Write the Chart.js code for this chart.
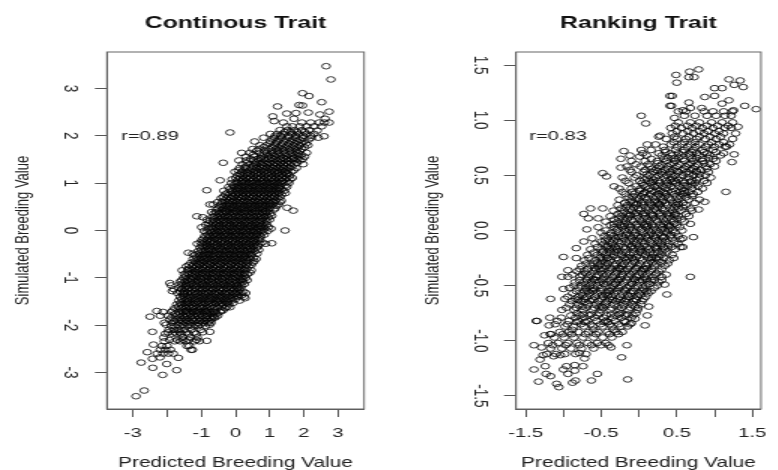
<!DOCTYPE html>
<html>
<head>
<meta charset="utf-8">
<script src="https://cdn.jsdelivr.net/npm/chart.js@4"></script>
<style>
  html, body { margin: 0; background: #fff; overflow: hidden; }
  canvas { position: absolute; top: 0; transform: scaleX(1.5); transform-origin: 0 0; }
  #cont { left: 0; }
  #rank { left: 389px; }
</style>
</head>
<body>
<canvas id="cont" width="260" height="470"></canvas>
<canvas id="rank" width="260" height="470"></canvas>
<script>
const contXTicks = [-3, -2, -1, 0, 1, 2, 3];
const contXLabels = ["-3", "", "-1", "0", "1", "2", "3"];
const contYTicks = [-3, -2, -1, 0, 1, 2, 3];
const contYLabels = ["-3", "-2", "-1", "0", "1", "2", "3"];
const rankXTicks = [-1.5, -1, -0.5, 0, 0.5, 1, 1.5];
const rankXLabels = ["-1.5", "", "-0.5", "", "0.5", "", "1.5"];
const rankYTicks = [-1.5, -1, -0.5, 0, 0.5, 1, 1.5];
const rankYLabels = ["-1.5", "-1.0", "-0.5", "0.0", "0.5", "1.0", "1.5"];

// single rings
const contStray = [[2.65,3.47],[2.79,3.19],[1.96,2.9],[2.15,2.84],[2.52,2.71],[1.23,2.62],[1.86,2.65],[1.96,2.64],[2.74,2.51],[2.13,2.49],[1.5,2.47],[1.77,2.48],[1.09,2.41],[2.47,2.45],[1.71,2.36],[1.13,2.31],[2.74,2.28],[2.62,2.36],[-0.16,2.07],[-0.36,1.43],[-0.45,1.06],[-0.84,0.85],[-0.65,0.55],[-0.75,0.55],[-1.13,0.3],[-0.99,0.07],[1.45,0],[1.69,0.42],[1.51,0.48],[2.59,1.99],[2.39,2.11],[-2.91,-3.5],[-2.67,-3.38],[-2.13,-3.05],[-2.42,-2.9],[-1.72,-2.95],[-2.76,-2.79],[-2.01,-2.82],[-2.58,-2.57],[-2.4,-2.41],[-2.43,-2.71],[-2.21,-2.68],[-1.67,-2.69],[-1.26,-2.52],[-0.84,-2.33],[-2.43,-2.14],[-0.75,-2.14],[-2.5,-1.82],[-2.3,-1.7],[-1.38,-0.47],[1.06,-0.27],[0.28,-1.43],[-0.16,-1.62],[-0.37,-1.69],[-0.63,-1.83],[-1.92,-1.11],[-1.85,-1.28]];

// dense band, one row per y level: [y, [x, x, ...]]
const contBand = [
[-2.6,[-2.29,-2.12,-1.96,-1.82]],
[-2.52,[-2.2,-2.05,-1.9,-1.3]],
[-2.44,[-2.15,-2,-1.35,-1.42]],
[-2.34,[-2.08,-1.78,-1.62,-1.45,-1.2,-1.06]],
[-2.26,[-2.1,-1.55,-1.32,-1.12]],
[-2.18,[-2.05,-1.85,-1.72,-1.58,-1.38,-1.15]],
[-2.1,[-1.95,-1.8,-1.66,-1.5,-1.3,-1.02]],
[-2.02,[-1.88,-1.77,-1.6,-1.41,-1.25,-1.09,-0.88]],
[-1.95,[-2.08,-1.85,-1.66,-1.48,-1.33,-1.1,-0.95,-0.8,-0.72]],
[-1.88,[-1.93,-1.74,-1.6,-1.45,-1.28,-1.15,-1,-0.85,-0.7]],
[-1.8,[-2.2,-1.98,-1.7,-1.55,-1.4,-1.25,-1.1,-0.96,-0.82,-0.66,-0.52]],
[-1.72,[-2.12,-1.88,-1.68,-1.52,-1.38,-1.22,-1.06,-0.9,-0.75,-0.6,-0.45]],
[-1.64,[-1.78,-1.6,-1.46,-1.3,-1.17,-1,-0.85,-0.68,-0.52,-0.3]],
[-1.56,[-1.72,-1.58,-1.42,-1.28,-1.12,-0.96,-0.8,-0.64,-0.48,-0.34,-0.2]],
[-1.48,[-1.66,-1.5,-1.36,-1.2,-1.05,-0.9,-0.74,-0.58,-0.44,-0.28,-0.12,0.12]],
[-1.4,[-1.62,-1.47,-1.3,-1.14,-0.98,-0.84,-0.68,-0.52,-0.38,-0.22,-0.06,0.08,0.25]],
[-1.32,[-1.7,-1.54,-1.4,-1.26,-1.1,-0.94,-0.78,-0.62,-0.47,-0.32,-0.16,-0.02,0.16,0.3]],
[-1.24,[-1.8,-1.58,-1.43,-1.27,-1.13,-0.97,-0.82,-0.66,-0.5,-0.35,-0.2,-0.04,0.1]],
[-1.16,[-1.88,-1.55,-1.39,-1.23,-1.07,-0.92,-0.76,-0.6,-0.45,-0.3,-0.14,0.02,0.18]],
[-1.08,[-1.62,-1.48,-1.32,-1.16,-1,-0.85,-0.7,-0.54,-0.38,-0.23,-0.08,0.07,0.22]],
[-1,[-1.52,-1.38,-1.22,-1.07,-0.92,-0.77,-0.62,-0.46,-0.31,-0.16,0,0.14,0.3]],
[-0.92,[-1.5,-1.34,-1.18,-1.02,-0.87,-0.72,-0.56,-0.41,-0.26,-0.1,0.05,0.2,0.35]],
[-0.84,[-1.56,-1.4,-1.25,-1.1,-0.94,-0.79,-0.63,-0.48,-0.32,-0.17,-0.02,0.13,0.28,0.46]],
[-0.76,[-1.44,-1.28,-1.13,-0.98,-0.82,-0.67,-0.51,-0.36,-0.21,-0.06,0.09,0.24,0.38]],
[-0.68,[-1.3,-1.16,-1,-0.85,-0.7,-0.55,-0.39,-0.24,-0.09,0.06,0.21,0.36,0.5]],
[-0.6,[-1.24,-1.08,-0.93,-0.78,-0.62,-0.47,-0.32,-0.17,-0.02,0.13,0.28,0.43,0.6]],
[-0.52,[-1.2,-1.03,-0.88,-0.73,-0.58,-0.42,-0.27,-0.12,0.03,0.18,0.33,0.48]],
[-0.44,[-1.1,-0.95,-0.8,-0.65,-0.5,-0.34,-0.19,-0.04,0.11,0.26,0.41,0.56]],
[-0.36,[-1.04,-0.89,-0.74,-0.58,-0.43,-0.28,-0.13,0.02,0.17,0.32,0.47,0.62]],
[-0.28,[-1.12,-0.97,-0.82,-0.66,-0.51,-0.36,-0.2,-0.05,0.1,0.25,0.4,0.55,0.72,0.88]],
[-0.2,[-0.98,-0.84,-0.68,-0.53,-0.38,-0.23,-0.08,0.07,0.22,0.37,0.52,0.67]],
[-0.12,[-0.9,-0.76,-0.61,-0.46,-0.31,-0.16,-0.01,0.14,0.29,0.44,0.59,0.74]],
[-0.04,[-0.85,-0.7,-0.55,-0.4,-0.25,-0.1,0.05,0.2,0.35,0.5,0.65,0.8]],
[0.04,[-0.8,-0.65,-0.5,-0.35,-0.2,-0.05,0.1,0.25,0.4,0.55,0.7,0.85,1.04]],
[0.12,[-0.87,-0.72,-0.57,-0.42,-0.27,-0.12,0.03,0.18,0.33,0.48,0.63,0.78,0.92]],
[0.2,[-0.75,-0.6,-0.46,-0.31,-0.16,-0.01,0.14,0.29,0.44,0.59,0.74,0.9]],
[0.28,[-0.96,-0.68,-0.53,-0.38,-0.23,-0.08,0.07,0.22,0.37,0.52,0.67,0.82,0.97]],
[0.36,[-0.63,-0.48,-0.33,-0.18,-0.03,0.12,0.27,0.42,0.57,0.72,0.87,1.02]],
[0.44,[-0.55,-0.4,-0.25,-0.1,0.05,0.2,0.35,0.5,0.65,0.8,0.95,1.12]],
[0.52,[-0.47,-0.32,-0.17,-0.02,0.13,0.28,0.43,0.58,0.73,0.88,1.03,1.2]],
[0.6,[-0.52,-0.38,-0.23,-0.08,0.07,0.22,0.37,0.52,0.67,0.82,0.97,1.12,1.3]],
[0.68,[-0.42,-0.27,-0.12,0.03,0.18,0.33,0.48,0.63,0.78,0.93,1.08,1.24]],
[0.76,[-0.3,-0.16,-0.01,0.14,0.29,0.44,0.59,0.74,0.89,1.04,1.19,1.35]],
[0.84,[-0.34,-0.1,0.05,0.2,0.35,0.5,0.65,0.8,0.95,1.1,1.25,1.42]],
[0.92,[-0.2,-0.04,0.11,0.26,0.41,0.56,0.71,0.86,1.01,1.16,1.31,1.5]],
[1,[-0.12,0.03,0.18,0.33,0.48,0.63,0.78,0.93,1.08,1.23,1.38,1.56]],
[1.08,[-0.1,0.08,0.24,0.39,0.54,0.69,0.84,0.99,1.14,1.29,1.44,1.6]],
[1.16,[0.05,0.2,0.36,0.51,0.66,0.81,0.96,1.11,1.26,1.41,1.58]],
[1.24,[-0.02,0.18,0.34,0.52,0.68,0.84,1,1.15,1.3,1.45,1.64]],
[1.32,[0.12,0.28,0.46,0.62,0.78,0.94,1.1,1.25,1.4,1.56,1.78]],
[1.4,[0.2,0.42,0.58,0.75,0.92,1.08,1.24,1.4,1.55,1.72,1.98]],
[1.48,[0.1,0.32,0.52,0.7,0.88,1.05,1.22,1.38,1.54,1.72,1.9]],
[1.56,[0.3,0.55,0.76,0.95,1.14,1.3,1.48,1.66,1.85,2.02]],
[1.64,[0.18,0.42,0.72,0.92,1.1,1.28,1.46,1.64,1.82,2.08]],
[1.72,[0.5,0.68,0.98,1.18,1.36,1.56,1.74,1.94]],
[1.8,[0.72,0.9,1.14,1.34,1.52,1.7,1.88,2.12]],
[1.88,[0.56,1.02,1.22,1.42,1.62,1.8,2]],
[1.96,[0.82,1.14,1.34,1.56,1.76,1.96,2.22,2.42]],
[2.04,[1.02,1.22,1.4,1.66,1.86,2.08,2.3]],
[2.12,[1.3,1.52,1.72,1.94,2.16]],
[2.2,[1.5,1.66,1.88,2.08,2.3,2.52]],
[2.28,[1.4,1.94,2.2,2.45,2.6]]
];

// second pass over the band, rows between the ones above
const contFill = [
[-2.31,[-1.93,-1.7,-1.52,-1.37,-1.14]],
[-2.15,[-1.97,-1.77,-1.63,-1.44,-1.21,-0.96]],
[-1.99,[-2.03,-1.7,-1.53,-1.36,-1.17,-1.03,-0.76]],
[-1.91,[-1.79,-1.57,-1.4,-1.22,-1.06,-0.9,-0.77]],
[-1.84,[-1.87,-1.64,-1.49,-1.32,-1.19,-1.03,-0.88,-0.73,-0.6]],
[-1.76,[-1.76,-1.61,-1.44,-1.31,-1.14,-0.99,-0.83,-0.69,-0.55]],
[-1.69,[-1.83,-1.56,-1.42,-1.26,-1.09,-0.93,-0.79,-0.63,-0.42]],
[-1.61,[-1.67,-1.52,-1.36,-1.23,-1.05,-0.91,-0.74,-0.59,-0.41,-0.25]],
[-1.53,[-1.61,-1.45,-1.33,-1.16,-1.01,-0.86,-0.69,-0.55,-0.39,-0.24,-0.07]],
[-1.45,[-1.57,-1.41,-1.25,-1.11,-0.95,-0.79,-0.64,-0.49,-0.33,-0.17,-0.01]],
[-1.37,[-1.53,-1.38,-1.22,-1.03,-0.89,-0.73,-0.57,-0.43,-0.27,-0.11,0.04,0.18]],
[-1.29,[-1.62,-1.49,-1.33,-1.19,-1.02,-0.86,-0.71,-0.55,-0.41,-0.25,-0.09,0.06,0.23]],
[-1.21,[-1.65,-1.51,-1.35,-1.18,-1.03,-0.88,-0.72,-0.57,-0.42,-0.26,-0.11,0.05,0.15]],
[-1.13,[-1.59,-1.44,-1.29,-1.12,-0.96,-0.81,-0.65,-0.5,-0.34,-0.19,-0.03,0.11,0.26]],
[-1.05,[-1.57,-1.41,-1.26,-1.1,-0.94,-0.79,-0.64,-0.48,-0.33,-0.17,-0.01,0.17,0.34]],
[-0.97,[-1.46,-1.28,-1.13,-0.99,-0.83,-0.68,-0.52,-0.37,-0.21,-0.05,0.09,0.25]],
[-0.89,[-1.42,-1.27,-1.12,-0.96,-0.81,-0.66,-0.5,-0.35,-0.2,-0.04,0.11,0.27,0.42]],
[-0.81,[-1.36,-1.2,-1.05,-0.89,-0.74,-0.58,-0.43,-0.28,-0.12,0.03,0.19,0.33]],
[-0.73,[-1.37,-1.22,-1.06,-0.91,-0.75,-0.6,-0.45,-0.29,-0.14,0.01,0.16,0.31,0.46]],
[-0.65,[-1.19,-1.04,-0.9,-0.74,-0.59,-0.44,-0.28,-0.13,0.02,0.17,0.32,0.54]],
[-0.57,[-1.15,-0.99,-0.84,-0.68,-0.52,-0.37,-0.22,-0.07,0.08,0.23,0.38,0.53]],
[-0.49,[-1.25,-1.07,-0.92,-0.77,-0.62,-0.46,-0.31,-0.16,-0.01,0.14,0.29,0.44,0.63]],
[-0.41,[-1.01,-0.86,-0.71,-0.55,-0.4,-0.25,-0.09,0.06,0.21,0.36,0.51,0.68]],
[-0.33,[-0.98,-0.83,-0.68,-0.53,-0.37,-0.22,-0.07,0.08,0.23,0.38,0.53,0.66]],
[-0.25,[-1.02,-0.9,-0.75,-0.6,-0.45,-0.3,-0.15,0,0.15,0.3,0.45,0.6,0.78]],
[-0.17,[-0.93,-0.79,-0.63,-0.49,-0.33,-0.18,-0.03,0.12,0.27,0.42,0.57,0.71]],
[-0.09,[-0.81,-0.66,-0.51,-0.36,-0.21,-0.06,0.09,0.24,0.39,0.54,0.69,0.84]],
[-0.01,[-0.92,-0.75,-0.6,-0.45,-0.3,-0.15,0,0.15,0.3,0.45,0.6,0.75,0.94]],
[0.07,[-0.7,-0.55,-0.4,-0.25,-0.09,0.06,0.21,0.36,0.51,0.66,0.81,0.96]],
[0.15,[-0.79,-0.64,-0.5,-0.34,-0.19,-0.04,0.11,0.26,0.41,0.56,0.71,0.86]],
[0.23,[-0.83,-0.65,-0.49,-0.35,-0.2,-0.05,0.1,0.25,0.4,0.55,0.7,0.86,1]],
[0.31,[-0.6,-0.45,-0.3,-0.15,0,0.15,0.3,0.45,0.6,0.75,0.9,1.06]],
[0.39,[-0.7,-0.56,-0.41,-0.26,-0.11,0.04,0.19,0.34,0.49,0.64,0.79,0.94]],
[0.47,[-0.5,-0.35,-0.2,-0.05,0.1,0.25,0.4,0.55,0.7,0.85,1,1.16]],
[0.55,[-0.41,-0.26,-0.11,0.04,0.19,0.34,0.49,0.64,0.79,0.94,1.09,1.26]],
[0.63,[-0.33,-0.18,-0.03,0.12,0.27,0.42,0.57,0.72,0.87,1.02,1.17,1.34]],
[0.71,[-0.36,-0.2,-0.06,0.09,0.24,0.39,0.54,0.69,0.84,0.99,1.14,1.3]],
[0.79,[-0.24,-0.07,0.08,0.23,0.38,0.53,0.68,0.83,0.98,1.13,1.28,1.46]],
[0.87,[-0.17,0,0.15,0.3,0.45,0.6,0.75,0.9,1.05,1.2,1.35]],
[0.95,[-0.07,0.08,0.23,0.38,0.53,0.68,0.83,0.98,1.13,1.28,1.46]],
[1.03,[0.02,0.17,0.3,0.45,0.6,0.75,0.9,1.05,1.2,1.35,1.52]],
[1.11,[0.01,0.14,0.29,0.44,0.6,0.75,0.9,1.05,1.2,1.35,1.5,1.66]],
[1.19,[0.12,0.28,0.44,0.6,0.75,0.9,1.05,1.2,1.36,1.52]],
[1.27,[0.08,0.24,0.41,0.58,0.74,0.9,1.06,1.21,1.37,1.52,1.7]],
[1.35,[0.3,0.52,0.69,0.85,1.02,1.17,1.33,1.48,1.64]],
[1.43,[0.34,0.6,0.8,0.98,1.14,1.32,1.47,1.63,1.8]],
[1.51,[0.44,0.64,0.82,0.98,1.16,1.32,1.48,1.64,1.82,1.96]],
[1.6,[0.52,0.84,1.02,1.2,1.38,1.56,1.74,1.92]],
[1.68,[0.62,0.86,1.06,1.24,1.42,1.6,1.78,1.88]],
[1.76,[0.82,1.08,1.26,1.46,1.64,1.82,2.02]],
[1.84,[1,1.18,1.38,1.56,1.74,1.92,2.06]],
[1.92,[1.08,1.28,1.48,1.68,1.88,2.14]],
[2,[1.16,1.32,1.54,1.76,1.98,2.2]],
[2.08,[1.44,1.62,1.8,2.02]]
];

// third pass, only the solid black middle
const contCore = [
[-1.7,[-1.46,-1.17,-0.87]],
[-1.5,[-1.4,-1.1,-0.8,-0.52,-0.24]],
[-1.34,[-1.5,-1.17,-0.9,-0.6,-0.3,0]],
[-1.18,[-1.45,-1.15,-0.84,-0.53,-0.22,0.06]],
[-1.02,[-1.3,-1,-0.7,-0.4,-0.1,0.2]],
[-0.87,[-1.16,-0.85,-0.54,-0.23,0.08]],
[-0.71,[-1.09,-0.78,-0.47,-0.16,0.15]],
[-0.55,[-0.95,-0.65,-0.35,-0.04,0.26]],
[-0.39,[-0.77,-0.46,-0.16,0.14,0.44]],
[-0.23,[-0.72,-0.41,-0.1,0.2,0.5]],
[-0.07,[-0.58,-0.28,0.02,0.32,0.62]],
[0.09,[-0.47,-0.16,0.14,0.44,0.74]],
[0.25,[-0.42,-0.12,0.18,0.48,0.78]],
[0.41,[-0.3,0,0.3,0.6,0.88]],
[0.57,[-0.19,0.11,0.41,0.71,1.01]],
[0.73,[-0.08,0.22,0.52,0.82,1.12]],
[0.89,[0.08,0.38,0.68,0.98,1.26]],
[1.05,[0.2,0.5,0.8,1.1,1.38]],
[1.21,[0.34,0.64,0.94,1.24,1.5]],
[1.37,[0.52,0.82,1.12,1.42]],
[1.53,[0.74,1.06,1.4,1.7]]
];

const rankStray = [[0.79,1.46],[0.67,1.44],[0.49,1.41],[0.66,1.39],[0.73,1.39],[0.5,1.34],[1.19,1.37],[1.34,1.36],[1.26,1.32],[1.38,1.3],[1,1.29],[1.1,1.29],[0.41,1.22],[0.44,1.22],[0.87,1.21],[1,1.22],[1.19,1.18],[0.66,1.16],[0.41,1.13],[0.43,1.13],[1.1,1.15],[1.4,1.13],[1.55,1.1],[0.03,1.04],[0.09,0.97],[0.58,1.09],[0.68,1.11],[0.83,1.11],[1.25,1.09],[0.47,1.02],[1.31,0.94],[0.28,0.86],[0.11,0.78],[-0.2,0.72],[0.03,0.73],[-0.48,0.52],[-0.43,0.49],[-0.24,0.57],[-0.24,0.65],[0.01,0.67],[1.26,0.69],[1.16,0.76],[1.23,0.62],[1.15,0.35],[0.79,0.19],[0.68,0.06],[0.87,0.26],[-0.73,0.15],[-0.64,0.2],[-0.67,0.11],[-0.54,0.11],[-0.69,0.01],[-0.33,0.4],[-0.48,0.2],[-1.06,-1.42],[-1.09,-1.39],[-1.33,-1.37],[-0.88,-1.38],[-0.84,-1.36],[-0.63,-1.36],[-0.15,-1.35],[-0.55,-1.3],[-1.17,-1.32],[-1.23,-1.3],[-1.39,-1.26],[-1,-1.26],[-0.94,-1.3],[-0.85,-1.27],[-1.24,-1.23],[-0.74,-1.23],[-0.96,-1.23],[-0.85,-1.22],[-1.31,-1.17],[-0.23,-1.15],[-1.27,-1.13],[-1.39,-1.04],[-1.29,-1.06],[-0.16,-1.04],[-0.37,-1.06],[-1.36,-0.82],[-1.35,-0.82],[-1.19,-0.86],[-1.17,-0.62],[-1.18,-0.79],[0.08,-0.86],[0.11,-0.77],[0.13,-0.69],[0.37,-0.58],[0.68,-0.42],[0.34,-0.49],[-1,-0.24],[-0.83,-0.16],[-0.83,-0.25],[-1.02,-0.42],[-0.94,-0.36],[-1,-0.53],[0.72,-0.06],[0.55,-0.15],[0.55,-0.08],[-0.73,-0.1],[-1.25,-0.95],[-1.17,-0.94],[-1.04,-1.13],[-1.13,-1.14],[-0.79,-1.11],[-0.72,-1.16],[-0.4,-1.04],[-0.05,-0.8],[-0.1,-0.84],[-0.22,-0.92]];

const rankBand = [
[-1.12,[-1.22,-1.1,-0.98,-0.84,-0.7]],
[-1.07,[-1.17,-1.02,-0.9,-0.76,-0.6]],
[-1.02,[-1.2,-1.07,-0.94,-0.82,-0.68,-0.55,-0.44]],
[-0.97,[-1.12,-0.99,-0.86,-0.74,-0.6,-0.48,-0.36]],
[-0.92,[-1.05,-0.93,-0.8,-0.67,-0.54,-0.42,-0.3]],
[-0.87,[-0.98,-0.86,-0.73,-0.61,-0.48,-0.36,-0.24,-0.15]],
[-0.82,[-1.08,-0.93,-0.8,-0.68,-0.56,-0.44,-0.32,-0.2]],
[-0.77,[-0.9,-0.78,-0.66,-0.55,-0.43,-0.3,-0.18,-0.08]],
[-0.72,[-1.02,-0.86,-0.74,-0.62,-0.5,-0.38,-0.26,-0.14,-0.02]],
[-0.67,[-0.92,-0.8,-0.68,-0.57,-0.45,-0.33,-0.21,-0.09,0.03]],
[-0.62,[-0.98,-0.84,-0.72,-0.62,-0.5,-0.39,-0.28,-0.17,-0.05,0.06]],
[-0.57,[-0.88,-0.76,-0.66,-0.55,-0.44,-0.33,-0.22,-0.11,0,0.12]],
[-0.52,[-0.92,-0.8,-0.7,-0.6,-0.5,-0.38,-0.27,-0.16,-0.06,0.05,0.2]],
[-0.47,[-0.85,-0.73,-0.63,-0.53,-0.42,-0.31,-0.2,-0.1,0.01,0.12,0.26]],
[-0.42,[-0.94,-0.78,-0.67,-0.57,-0.46,-0.35,-0.25,-0.14,-0.03,0.07,0.18,0.3]],
[-0.37,[-0.82,-0.72,-0.6,-0.5,-0.4,-0.29,-0.18,-0.08,0.03,0.14,0.26]],
[-0.32,[-0.76,-0.64,-0.54,-0.44,-0.33,-0.23,-0.12,-0.02,0.09,0.2,0.34]],
[-0.27,[-0.72,-0.58,-0.48,-0.38,-0.27,-0.17,-0.06,0.04,0.15,0.26,0.4]],
[-0.22,[-0.68,-0.55,-0.44,-0.33,-0.23,-0.12,-0.02,0.09,0.19,0.3,0.44]],
[-0.17,[-0.64,-0.5,-0.39,-0.29,-0.18,-0.08,0.03,0.13,0.24,0.35,0.48]],
[-0.12,[-0.58,-0.46,-0.35,-0.24,-0.14,-0.03,0.07,0.18,0.29,0.4,0.52]],
[-0.07,[-0.62,-0.42,-0.31,-0.2,-0.1,0.01,0.11,0.22,0.32,0.44,0.58]],
[-0.02,[-0.5,-0.37,-0.26,-0.15,-0.05,0.06,0.16,0.27,0.37,0.48]],
[0.03,[-0.54,-0.33,-0.22,-0.11,-0.01,0.1,0.2,0.31,0.42,0.54]],
[0.08,[-0.44,-0.28,-0.17,-0.07,0.04,0.14,0.25,0.35,0.46,0.6]],
[0.13,[-0.38,-0.24,-0.13,-0.02,0.08,0.19,0.29,0.4,0.52,0.66]],
[0.18,[-0.34,-0.2,-0.09,0.02,0.12,0.23,0.34,0.44,0.56,0.7]],
[0.23,[-0.28,-0.15,-0.04,0.06,0.17,0.27,0.38,0.49,0.62]],
[0.28,[-0.26,-0.1,0,0.11,0.21,0.32,0.42,0.53,0.66,0.8]],
[0.33,[-0.18,-0.06,0.05,0.15,0.26,0.36,0.47,0.58,0.72]],
[0.38,[-0.26,-0.1,0.02,0.13,0.24,0.35,0.46,0.57,0.7,0.84]],
[0.43,[-0.14,0.04,0.16,0.27,0.38,0.49,0.6,0.74,0.9]],
[0.48,[-0.22,-0.06,0.1,0.22,0.33,0.44,0.55,0.66,0.8,0.95]],
[0.53,[-0.1,0.06,0.19,0.3,0.41,0.52,0.63,0.76,0.92]],
[0.58,[-0.16,0.02,0.14,0.27,0.38,0.5,0.62,0.74,0.88,1]],
[0.63,[-0.1,0.08,0.24,0.36,0.48,0.6,0.72,0.84,1.02]],
[0.68,[-0.12,0.1,0.3,0.44,0.56,0.68,0.8,0.94,1.08]],
[0.73,[0.16,0.34,0.48,0.6,0.72,0.84,0.98]],
[0.78,[0.22,0.42,0.56,0.68,0.8,0.92,1.06,1.2]],
[0.83,[0.36,0.5,0.62,0.76,0.88,1.02,1.24]],
[0.88,[0.44,0.58,0.72,0.86,1,1.12,1.28]],
[0.93,[0.42,0.56,0.7,0.84,0.98,1.14,1.22]],
[0.98,[0.52,0.68,0.8,0.96,1.1,1.24]],
[1.04,[0.6,0.74,0.9,1.02,1.14,1.22]],
[1.08,[0.52,0.62,0.86,0.98,1.12,1.24]]
];

const rankFill = [
[-1.04,[-1.14,-0.97,-0.79,-0.63,-0.5]],
[-0.94,[-1.17,-1.01,-0.89,-0.71,-0.57,-0.39,-0.27]],
[-0.85,[-1.11,-0.95,-0.77,-0.64,-0.51,-0.39,-0.27,-0.12]],
[-0.79,[-1.03,-0.84,-0.72,-0.59,-0.47,-0.35,-0.23,-0.1]],
[-0.7,[-0.96,-0.83,-0.7,-0.59,-0.47,-0.36,-0.23,-0.11,-0.01]],
[-0.64,[-0.89,-0.77,-0.65,-0.54,-0.42,-0.31,-0.19,-0.07,0.04]],
[-0.6,[-0.94,-0.8,-0.69,-0.58,-0.47,-0.36,-0.25,-0.13,-0.02,0.09]],
[-0.55,[-0.83,-0.72,-0.61,-0.51,-0.4,-0.29,-0.18,-0.07,0.04,0.16]],
[-0.5,[-0.86,-0.76,-0.65,-0.55,-0.44,-0.34,-0.23,-0.12,-0.02,0.09,0.24]],
[-0.45,[-0.79,-0.69,-0.59,-0.48,-0.38,-0.27,-0.16,-0.05,0.05,0.16,0.3]],
[-0.4,[-0.88,-0.75,-0.64,-0.54,-0.43,-0.32,-0.22,-0.11,0,0.1,0.22,0.36]],
[-0.35,[-0.78,-0.68,-0.57,-0.46,-0.36,-0.25,-0.15,-0.05,0.06,0.17,0.3]],
[-0.3,[-0.7,-0.6,-0.5,-0.41,-0.3,-0.2,-0.09,0.01,0.12,0.23,0.38]],
[-0.25,[-0.66,-0.52,-0.42,-0.3,-0.2,-0.09,0.01,0.12,0.22,0.33,0.46]],
[-0.2,[-0.6,-0.49,-0.38,-0.28,-0.17,-0.07,0.04,0.14,0.25,0.37]],
[-0.15,[-0.55,-0.43,-0.32,-0.21,-0.11,0,0.1,0.21,0.32,0.43,0.58]],
[-0.1,[-0.5,-0.39,-0.28,-0.17,-0.07,0.04,0.14,0.25,0.35,0.47]],
[-0.05,[-0.46,-0.34,-0.23,-0.12,-0.02,0.09,0.19,0.3,0.41,0.52]],
[0,[-0.44,-0.3,-0.19,-0.08,0.02,0.13,0.23,0.34,0.44,0.57]],
[0.05,[-0.38,-0.25,-0.14,-0.04,0.07,0.17,0.28,0.38,0.5]],
[0.1,[-0.33,-0.21,-0.1,0.01,0.11,0.22,0.32,0.43,0.56]],
[0.15,[-0.28,-0.16,-0.06,0.05,0.16,0.26,0.37,0.48,0.62]],
[0.2,[-0.24,-0.12,-0.01,0.09,0.2,0.3,0.41,0.52,0.68]],
[0.25,[-0.19,-0.07,0.03,0.14,0.24,0.35,0.45,0.58,0.74]],
[0.3,[-0.14,-0.03,0.08,0.18,0.29,0.39,0.5,0.62]],
[0.35,[-0.22,-0.09,0.08,0.21,0.32,0.43,0.54,0.66,0.78]],
[0.4,[-0.04,0.09,0.2,0.31,0.42,0.53,0.64,0.78]],
[0.45,[-0.18,0.01,0.13,0.25,0.36,0.47,0.58,0.7,0.86]],
[0.5,[-0.03,0.14,0.26,0.37,0.48,0.59,0.72,0.88]],
[0.55,[-0.12,0.08,0.22,0.34,0.45,0.57,0.69,0.82]],
[0.6,[-0.04,0.12,0.3,0.42,0.54,0.66,0.78,0.94]],
[0.65,[0.16,0.33,0.46,0.58,0.7,0.84,0.98]],
[0.7,[0.05,0.26,0.42,0.52,0.66,0.76,0.9,1.12]],
[0.76,[0.32,0.5,0.64,0.75,0.88,1,1.14]],
[0.85,[0.26,0.47,0.66,0.8,0.94,1.08]],
[0.95,[0.48,0.64,0.76,0.9,1.04,1.18]]
];

const rankCore = [
[-0.9,[-0.88,-0.6,-0.34]],
[-0.75,[-0.82,-0.52,-0.24,-0.04]],
[-0.65,[-0.72,-0.44,-0.16]],
[-0.55,[-0.68,-0.38,-0.1,0.1]],
[-0.45,[-0.56,-0.28,0,0.2]],
[-0.35,[-0.52,-0.22,0.08]],
[-0.25,[-0.42,-0.14,0.16]],
[-0.16,[-0.36,-0.06,0.22]],
[-0.06,[-0.27,0.03,0.33]],
[0.04,[-0.19,0.12,0.4]],
[0.14,[-0.11,0.18,0.47]],
[0.24,[-0.02,0.27,0.52]],
[0.34,[0.07,0.34,0.6]],
[0.44,[0.19,0.44,0.68]],
[0.54,[0.25,0.5,0.76]]
];

// last pass in the dark middle, uneven on purpose like the picture
const rankDark = [
[-0.83,[-0.83,-0.71,-0.46,-0.41,-0.18]],
[-0.76,[-0.74,-0.63,-0.37,-0.26,-0.15]],
[-0.69,[-0.75,-0.52,-0.49,-0.28,-0.05]],
[-0.63,[-0.81,-0.6,-0.35,-0.24,-0.03]],
[-0.585,[-0.74,-0.49,-0.41,-0.15,0.02]],
[-0.535,[-0.64,-0.58,-0.34,-0.2,0.07]],
[-0.485,[-0.7,-0.47,-0.31,-0.09,0.14]],
[-0.44,[-0.61,-0.42,-0.24,-0.07,0.1]],
[-0.39,[-0.7,-0.48,-0.3,-0.13,0.04,0.23]],
[-0.34,[-0.59,-0.39,-0.27,-0.03,0.11]],
[-0.29,[-0.55,-0.44,-0.24,-0.06,0.18,0.3]],
[-0.24,[-0.5,-0.36,-0.16,-0.03,0.17,0.26]],
[-0.19,[-0.47,-0.33,-0.22,0.01,0.09,0.31]],
[-0.14,[-0.41,-0.27,-0.09,0.06,0.24,0.38]],
[-0.09,[-0.45,-0.33,-0.13,-0.01,0.17,0.3]],
[-0.04,[-0.38,-0.17,-0.06,0.13,0.24,0.43]],
[0.01,[-0.28,-0.13,0.04,0.18,0.3,0.39]],
[0.06,[-0.33,-0.2,-0.02,0.1,0.32,0.47]],
[0.11,[-0.27,-0.15,0.06,0.18,0.37,0.5]],
[0.16,[-0.22,-0.03,0.08,0.28,0.41]],
[0.21,[-0.17,-0.07,0.13,0.24,0.46,0.58]],
[0.26,[-0.12,0.06,0.2,0.31,0.5]],
[0.31,[-0.08,0.03,0.22,0.35,0.55,0.7]],
[0.36,[0.01,0.17,0.28,0.48,0.6]],
[0.41,[0.06,0.24,0.37,0.59,0.71]],
[0.46,[0.07,0.19,0.41,0.52,0.76]],
[0.51,[0.1,0.3,0.43,0.66,0.8]],
[0.56,[0.17,0.38,0.6,0.72,0.9]],
[0.61,[0.25,0.46,0.69,0.86]],
[0.66,[0.38,0.52,0.76,0.92]],
[0.71,[0.35,0.58,0.7,0.86,1.02]],
[0.8,[0.46,0.6,0.74,0.96,1.12]],
[0.9,[0.5,0.65,0.8,0.92,1.06]]
];

const contNote = { text: "r=0.89", x: -2.5, y: 2 };
const rankNote = { text: "r=0.83", x: -1.07, y: 0.85 };

function toPoints(stray, ...bands) {
  const pts = stray.map(p => ({ x: p[0], y: p[1] }));
  bands.forEach(band => band.forEach(row => row[1].forEach(x => pts.push({ x: x, y: row[0] }))));
  return pts;
}

// box round the plot + the r= note
const boxPlugin = {
  id: "box",
  afterDraw(chart, args, opts) {
    const { ctx, chartArea: a, scales } = chart;
    ctx.save();
    ctx.strokeStyle = "#666";
    ctx.lineWidth = 1;
    ctx.strokeRect(a.left, a.top, a.right - a.left, a.bottom - a.top);
    ctx.fillStyle = "#222";
    ctx.font = "13.5px 'Liberation Sans'";
    ctx.textAlign = "center";
    ctx.textBaseline = "middle";
    ctx.fillText(opts.text, scales.x.getPixelForValue(opts.x), scales.y.getPixelForValue(opts.y));
    ctx.restore();
  },
};

function makeChart(id, cfg) {
  const axisFont = { family: "Liberation Sans", size: 13.5 };
  return new Chart(document.getElementById(id), {
    type: "scatter",
    data: {
      datasets: [{
        data: cfg.points,
        showLine: false,
        pointRadius: 2.8,
        pointBorderWidth: 1,
        pointBorderColor: "rgba(0,0,0,0.8)",
        pointBackgroundColor: "rgba(0,0,0,0)",
      }],
    },
    plugins: [boxPlugin],
    options: {
      responsive: false,
      animation: false,
      layout: { padding: { right: cfg.rightPad } },
      plugins: {
        legend: { display: false },
        tooltip: { enabled: false },
        box: cfg.note,
        title: {
          display: true,
          text: cfg.title,
          fullSize: false,
          color: "#111",
          font: { family: "Liberation Sans", size: 16.5, weight: "bold" },
          padding: { top: 14, bottom: 18.2 },
        },
      },
      scales: {
        x: {
          min: cfg.xRange[0],
          max: cfg.xRange[1],
          afterBuildTicks: s => { s.ticks = cfg.xTicks.map(v => ({ value: v })); },
          afterFit: s => { s.height = 61; },
          grid: { drawOnChartArea: false, tickLength: 8, color: "#555" },
          border: { color: "#555" },
          ticks: {
            autoSkip: false, maxRotation: 0, padding: 8, color: "#222", font: axisFont,
            callback: (v, i) => cfg.xLabels[i],
          },
          title: { display: true, text: "Predicted Breeding Value", color: "#222", font: { family: "Liberation Sans", size: 13.9, lineHeight: 1 }, padding: 0 },
        },
        y: {
          min: cfg.yRange[0],
          max: cfg.yRange[1],
          afterBuildTicks: s => { s.ticks = cfg.yTicks.map(v => ({ value: v })); },
          afterFit: s => { s.width = cfg.yWidth; },
          grid: { drawOnChartArea: false, tickLength: 8, color: "#555" },
          border: { color: "#555" },
          ticks: {
            autoSkip: false, minRotation: -90, maxRotation: -90, crossAlign: "center",
            padding: cfg.yTickPad, color: "#222", font: axisFont,
            callback: (v, i) => cfg.yLabels[i],
          },
          title: { display: true, text: "Simulated Breeding Value", color: "#222", font: { family: "Liberation Sans", size: 13 }, padding: cfg.yTitlePad },
        },
      },
    },
  });
}

makeChart("cont", {
  title: "Continous Trait",
  points: toPoints(contStray, contBand, contFill, contCore),
  note: contNote,
  xRange: [-3.76, 3.76], yRange: [-3.77, 3.77],
  xTicks: contXTicks, xLabels: contXLabels, yTicks: contYTicks, yLabels: contYLabels,
  yWidth: 71.3, rightPad: 17.3, yTickPad: 11, yTitlePad: 8,
});
makeChart("rank", {
  title: "Ranking Trait",
  points: toPoints(rankStray, rankBand, rankFill, rankCore, rankDark),
  note: rankNote,
  xRange: [-1.627, 1.614], yRange: [-1.618, 1.618],
  xTicks: rankXTicks, xLabels: rankXLabels, yTicks: rankYTicks, yLabels: rankYLabels,
  yWidth: 84.7, rightPad: 4, yTickPad: 4, yTitlePad: 21.5,
});
</script>
</body>
</html>
